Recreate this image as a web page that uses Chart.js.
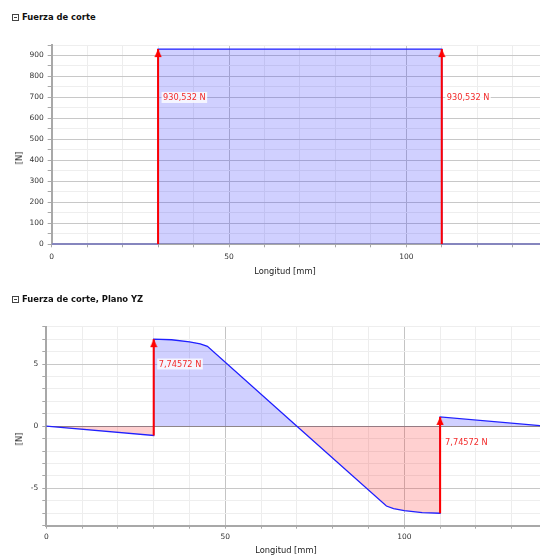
<!DOCTYPE html>
<html><head><meta charset="utf-8">
<script src="https://cdn.jsdelivr.net/npm/chart.js@4.4.1/dist/chart.umd.min.js"></script>
<style>
html,body{margin:0;padding:0;background:#fff;width:540px;height:557px;overflow:hidden;position:relative;font-family:"DejaVu Sans",sans-serif;}
.wrap{position:absolute;left:0;width:540px;}
.title{position:absolute;left:12px;font-weight:bold;font-size:8.4px;color:#111;white-space:nowrap;line-height:10px;}
.title .ic{display:inline-block;width:5px;height:5px;border:1px solid #444;position:relative;vertical-align:-1px;margin-right:3px;}
.title .ic:after{content:'';position:absolute;left:1px;right:1px;top:2px;height:1px;background:#444;}
.ax{position:absolute;font-size:8.3px;color:#222;white-space:nowrap;transform:translate(-50%,-50%);line-height:10px;}
.ay{position:absolute;font-size:8.3px;color:#222;white-space:nowrap;transform:translate(-50%,-50%) rotate(-90deg);line-height:10px;}
</style></head><body>
<div class="title" style="top:12px"><span class="ic"></span>Fuerza de corte</div>
<div class="wrap" style="top:0;height:280px"><canvas id="c1" width="540" height="280"></canvas></div>
<div class="ax" style="left:285px;top:271px">Longitud [mm]</div>
<div class="ay" style="left:19px;top:158px">[N]</div>

<div class="title" style="top:294px"><span class="ic"></span>Fuerza de corte, Plano YZ</div>
<div class="wrap" style="top:300px;height:257px"><canvas id="c2" width="540" height="257"></canvas></div>
<div class="ax" style="left:286px;top:550px">Longitud [mm]</div>
<div class="ay" style="left:19px;top:439px">[N]</div>
<script>
// ---- Chart 1: Fuerza de corte ----
const pos1 = [0, 30, 30, 110, 110, 140];            // Longitud [mm]
const shear1 = [0, 0, 930.532, 930.532, 0, 0];      // [N]
const arrowX1 = [30, 110];
const arrowFrom1 = [0, 0];
const arrowTo1 = [930.532, 930.532];
const labelY1 = [700, 700];
const labelText1 = ['930,532 N', '930,532 N'];
const xTicks1 = [0,10,20,30,40,50,60,70,80,90,100,110,120,130];
const yTicks1 = [0,50,100,150,200,250,300,350,400,450,500,550,600,650,700,750,800,850,900,950];

// ---- Chart 2: Fuerza de corte, Plano YZ ----
const pos2 = [0, 30, 30, 35, 40, 43, 45, 70, 95, 97, 100, 105, 110, 110, 140];
const shear2 = [0, -0.745, 7.0, 6.95, 6.78, 6.62, 6.42, 0, -6.42, -6.62, -6.78, -6.95, -7.0, 0.745, 0];
const arrowX2 = [30, 110];
const arrowFrom2 = [-0.745, -7.0];
const arrowTo2 = [7.0, 0.745];
const labelY2 = [5.0, -1.3];
const labelText2 = ['7,74572 N', '7,74572 N'];
const xTicks2 = [0,10,20,30,40,50,60,70,80,90,100,110,120,130];
const yTicks2 = [-8,-7,-6,-5,-4,-3,-2,-1,0,1,2,3,4,5,6,7,8];

const FONT = 'DejaVu Sans';

function makeHead(){
  const c = document.createElement('canvas');
  c.width = 8; c.height = 18;
  const g = c.getContext('2d');
  g.fillStyle = '#ff0000';
  g.beginPath(); g.moveTo(4, 9); g.lineTo(7.6, 17); g.lineTo(0.4, 17); g.closePath(); g.fill();
  return c;
}
const head = makeHead();

const labelPlugin = {
  id: 'jumpLabels',
  afterDatasetsDraw(chart, args, opts){
    const {ctx} = chart; const x = chart.scales.x, y = chart.scales.y;
    ctx.save();
    ctx.font = '8.2px "' + FONT + '"';
    ctx.textBaseline = 'middle'; ctx.textAlign = 'left';
    opts.xs.forEach((xv, i) => {
      const px = x.getPixelForValue(xv) + opts.dx;
      const py = y.getPixelForValue(opts.ys[i]);
      const t = opts.texts[i];
      const w = ctx.measureText(t).width;
      ctx.fillStyle = 'rgba(255,255,255,0.8)';
      ctx.fillRect(px - 1.5, py - 5.5, w + 3, 11);
      ctx.fillStyle = '#f22a2a';
      ctx.fillText(t, px, py + 0.5);
    });
    ctx.restore();
  }
};

function arrowSets(xs, from, to){
  return xs.map((xv, i) => ({
    data: [{x: xv, y: from[i]}, {x: xv, y: to[i]}],
    borderColor: '#ff0000', borderWidth: 2,
    pointStyle: head, pointRadius: [0, 4], pointHoverRadius: 0,
    fill: false, order: 0, tension: 0
  }));
}

function makeChart(id, pos, vals, aX, aF, aT, lY, lT, xT, yT, cfg){
  const data = pos.map((p, i) => ({x: p, y: vals[i]}));
  return new Chart(document.getElementById(id), {
    type: 'line',
    data: { datasets: [
      ...arrowSets(aX, aF, aT),
      { data, borderColor: '#2020ff', borderWidth: 1.3, pointRadius: 0, pointHoverRadius: 0, tension: 0, order: 1,
        fill: {target: 'origin', above: 'rgba(40,40,255,0.22)', below: 'rgba(255,40,40,0.22)'} }
    ]},
    options: {
      responsive: false, animation: false, events: [],
      layout: { autoPadding: false, padding: {left: 0, right: 0, top: cfg.top, bottom: 0} },
      plugins: { legend: {display: false}, tooltip: {enabled: false},
        jumpLabels: { xs: aX, ys: lY, texts: lT, dx: 5 } },
      scales: {
        x: { type: 'linear', min: 0, max: cfg.xmax,
          afterBuildTicks: s => { s.ticks = xT.filter(v => v <= s.max).map(v => ({value: v})); },
          afterFit: s => { s.height = cfg.xh; },
          ticks: { autoSkip: false, maxRotation: 0, padding: cfg.xpad, color: '#333', font: {family: FONT, size: 7.5},
            callback: v => (v % 50 === 0 ? String(v) : '') },
          grid: { tickLength: 3, tickColor: '#a8a8a8',
            color: c => (c.tick && c.tick.value % 50 === 0 ? '#c4c4c4' : '#ededed') },
          border: { color: '#a8a8a8', width: 2 } },
        y: { type: 'linear', min: cfg.ymin, max: cfg.ymax,
          afterBuildTicks: s => { s.ticks = yT.map(v => ({value: v})); },
          afterFit: s => { s.width = cfg.left; },
          ticks: { autoSkip: false, padding: 4, color: '#333', font: {family: FONT, size: 7.5},
            callback: v => (cfg.labelOk(v) ? String(v) : '') },
          grid: { tickLength: 4, tickColor: '#a8a8a8', color: c => cfg.ygrid(c.tick ? c.tick.value : 0) },
          border: { color: '#a8a8a8', width: 2 } }
      }
    },
    plugins: [labelPlugin]
  });
}

makeChart('c1', pos1, shear1, arrowX1, arrowFrom1, arrowTo1, labelY1, labelText1, xTicks1, yTicks1, {
  top: 45, xh: 35.7, xpad: 5, left: 51.7, xmax: 137.7, ymin: 0, ymax: 950,
  labelOk: v => v % 100 === 0 && v <= 900,
  ygrid: v => (v % 100 === 0 ? '#c8c8c8' : '#eeeeee')
});
makeChart('c2', pos2, shear2, arrowX2, arrowFrom2, arrowTo2, labelY2, labelText2, xTicks2, yTicks2, {
  top: 26.7, xh: 31.3, xpad: 4, left: 46.3, xmax: 137.9, ymin: -8, ymax: 8,
  labelOk: v => v % 5 === 0,
  ygrid: v => (v === 0 ? '#8c8c8c' : (v % 5 === 0 ? '#c8c8c8' : '#eeeeee'))
});
</script>
</body></html>
